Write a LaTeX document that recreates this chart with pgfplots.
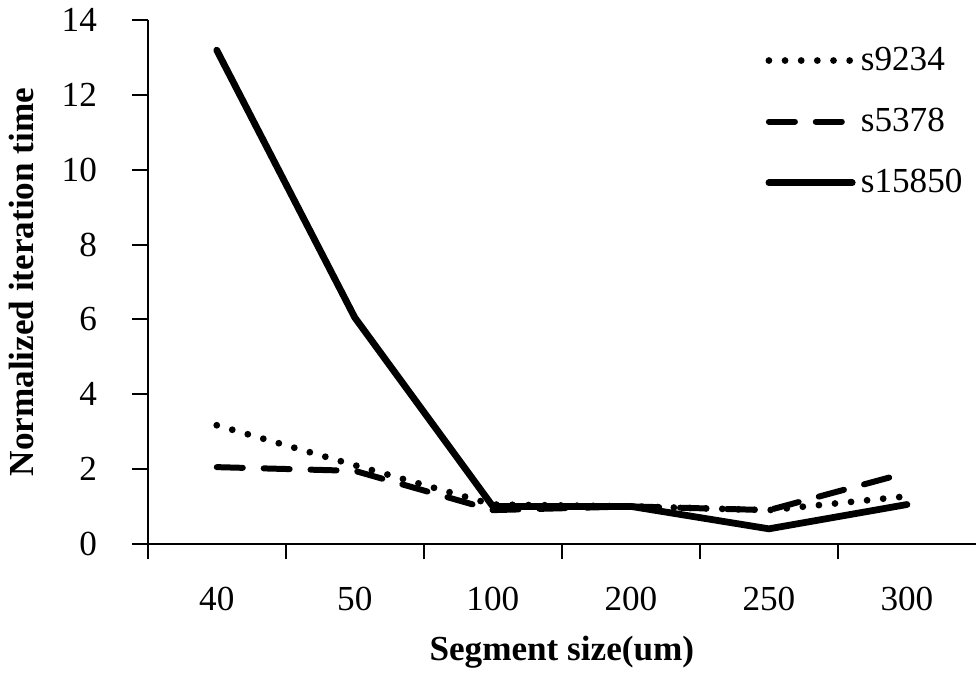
\documentclass[border=0pt]{standalone}
\usepackage{pgfplots}
\pgfplotsset{compat=1.18}
\usepackage{fontspec}
\setmainfont{Liberation Serif}
\begin{document}
\begin{tikzpicture}
\begin{axis}[
    scale only axis,
    width=318pt,
    height=201pt,
    xmin=-0.5, xmax=5.5,
    ymin=0, ymax=14,
    axis lines*=left,
    axis line style={line width=0.8pt},
    xtick={0,...,5},
    xticklabels={40,50,100,200,250,300},
    major x tick style={draw=none},
    minor xtick={-0.5,0.5,1.5,2.5,3.5,4.5},
    minor tick length=6pt,
    every minor tick/.style={line width=0.8pt, black},
    xtick align=outside,
    xticklabel style={yshift=-7pt},
    ytick={0,2,...,14},
    ytick align=outside,
    major tick length=6pt,
    ytick style={line width=0.8pt, black},
    yticklabel style={xshift=-10pt},
    tick label style={font=\fontsize{13.5}{16}\selectfont},
    /pgf/number format/assume math mode=true,
    xlabel={\textbf{Segment size(um)}},
    ylabel={\textbf{Normalized iteration time}},
    label style={font=\fontsize{13.5}{16}\selectfont},
    xlabel style={yshift=-3pt},
    ylabel style={yshift=4pt},
    legend style={draw=none, fill=none, at={(rel axis cs:1.0,0.97)}, anchor=north east,
        font=\fontsize{13.5}{16}\selectfont, row sep=9pt},
    legend cell align=left,
    legend image code/.code={\draw[#1] (0pt,0pt) -- (32pt,0pt);},
    clip=false,
]
\addplot[black, line width=2.6pt, line cap=round, dash pattern=on 0pt off 6.2pt] coordinates {
    (0,3.17) (1,2.1) (2,1.05) (3,1.0) (4,0.9) (5,1.27)
};
\addlegendentry{s9234}
\addplot[black, line width=2.3pt, line cap=round, dash pattern=on 10pt off 8pt] coordinates {
    (0,2.05) (1,1.95) (2,0.9) (3,1.0) (4,0.9) (5,1.9)
};
\addlegendentry{s5378}
\addplot[black, line width=2.6pt, line cap=round] coordinates {
    (0,13.2) (1,6.05) (2,1.0) (3,1.0) (4,0.4) (5,1.05)
};
\addlegendentry{s15850}
\end{axis}
\end{tikzpicture}
\end{document}
